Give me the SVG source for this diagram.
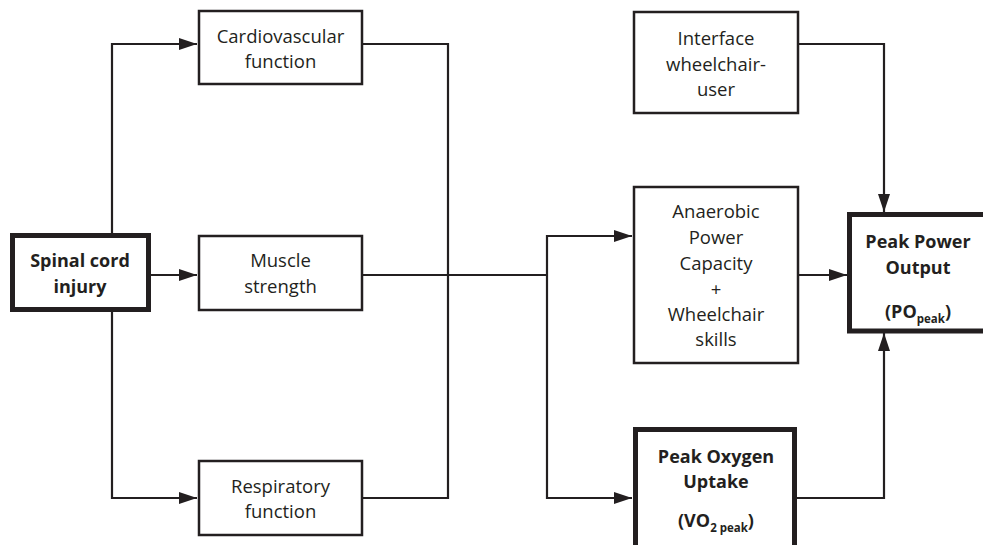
<svg xmlns="http://www.w3.org/2000/svg" width="983" height="545" viewBox="0 0 983 545">
<defs>
<marker id="arr" markerUnits="userSpaceOnUse" markerWidth="18" markerHeight="12" refX="18" refY="6" orient="auto">
<path d="M0,0 L18,6 L0,12 z" fill="#231f20"/>
</marker>
<style>
.box{fill:#fff;stroke:#231f20;stroke-width:2.5}
.thick{fill:#fff;stroke:#231f20;stroke-width:5}
.t{font-family:"Open Sans","Liberation Sans",sans-serif;font-size:18.5px;fill:#231f20;text-anchor:middle}
.b{font-weight:bold;font-size:18px}
.sub{font-size:11.5px}
.c{fill:none;stroke:#231f20;stroke-width:2.2}
</style>
</defs>
<rect width="983" height="545" fill="#fff"/>
<g id="connectors">
<path class="c" d="M112,235 V44 H197" marker-end="url(#arr)"/>
<path class="c" d="M151,275 H197" marker-end="url(#arr)"/>
<path class="c" d="M112,310 V498 H197" marker-end="url(#arr)"/>
<path class="c" d="M362,44 H448 V498 H362"/>
<path class="c" d="M362,275 H547"/>
<path class="c" d="M547,275 V236 H632" marker-end="url(#arr)"/>
<path class="c" d="M547,275 V498 H632" marker-end="url(#arr)"/>
<path class="c" d="M798,44 H884 V212" marker-end="url(#arr)"/>
<path class="c" d="M798,275 H847" marker-end="url(#arr)"/>
<path class="c" d="M797,498 H884 V333" marker-end="url(#arr)"/>
</g>
<g id="spinal">
<rect class="thick" x="12.5" y="235.5" width="136" height="74"/>
<text class="t b" x="80" y="267">Spinal cord</text>
<text class="t b" x="80" y="293">injury</text>
</g>
<g id="cardio">
<rect class="box" x="199" y="11" width="163" height="73"/>
<text class="t" x="280.5" y="43">Cardiovascular</text>
<text class="t" x="280.5" y="68">function</text>
</g>
<g id="muscle">
<rect class="box" x="199" y="236" width="163" height="74"/>
<text class="t" x="280.5" y="267">Muscle</text>
<text class="t" x="280.5" y="293">strength</text>
</g>
<g id="resp">
<rect class="box" x="199" y="461" width="163" height="74"/>
<text class="t" x="280.5" y="493">Respiratory</text>
<text class="t" x="280.5" y="518">function</text>
</g>
<g id="interface">
<rect class="box" x="634" y="12" width="164" height="101"/>
<text class="t" x="716" y="45">Interface</text>
<text class="t" x="716" y="71">wheelchair-</text>
<text class="t" x="716" y="96">user</text>
</g>
<g id="anaerobic">
<rect class="box" x="634" y="187" width="164" height="176"/>
<text class="t" x="716" y="218">Anaerobic</text>
<text class="t" x="716" y="244">Power</text>
<text class="t" x="716" y="270">Capacity</text>
<text class="t" x="716" y="296">+</text>
<text class="t" x="716" y="321">Wheelchair</text>
<text class="t" x="716" y="346">skills</text>
</g>
<g id="vo2">
<rect class="thick" x="635.5" y="429.5" width="159" height="130"/>
<text class="t b" x="716" y="463">Peak Oxygen</text>
<text class="t b" x="716" y="488">Uptake</text>
<text class="t b" x="716" y="527">(VO<tspan class="sub" dy="5">2 peak</tspan><tspan dy="-5">)</tspan></text>
</g>
<g id="ppo">
<rect class="thick" x="849.5" y="214.5" width="140" height="116.5"/>
<text class="t b" x="918" y="248">Peak Power</text>
<text class="t b" x="918" y="274">Output</text>
<text class="t b" x="918" y="318">(PO<tspan class="sub" dy="5">peak</tspan><tspan dy="-5">)</tspan></text>
</g>
</svg>
